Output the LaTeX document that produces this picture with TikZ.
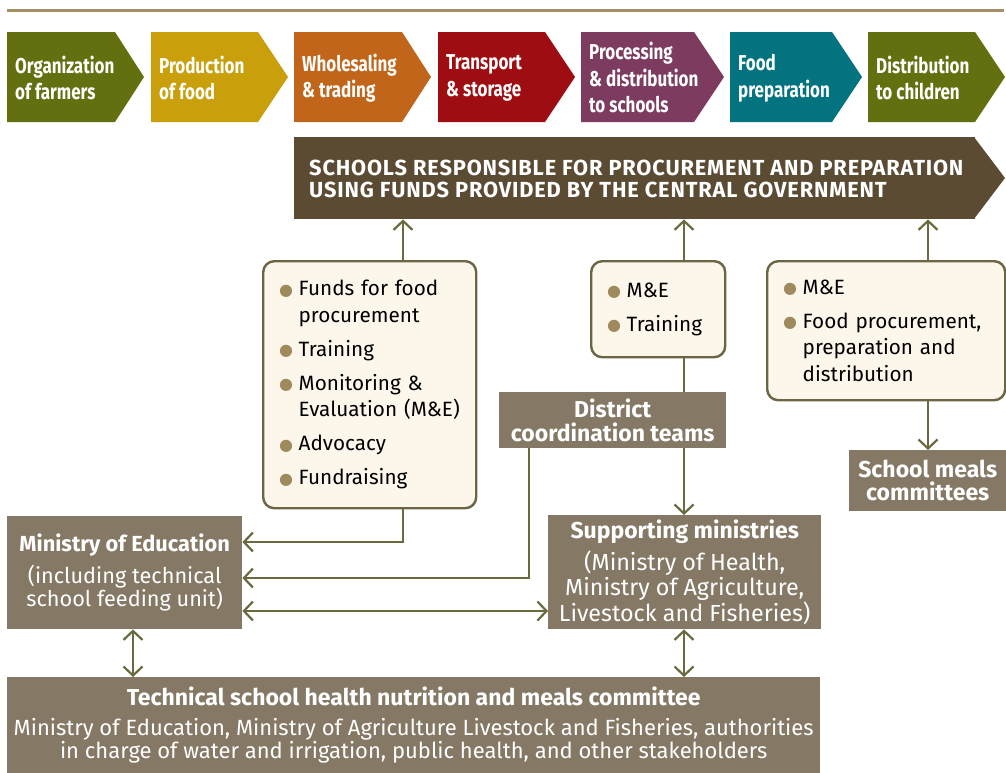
\documentclass[tikz,border=0pt]{standalone}
\usepackage{fontspec}
\setmainfont{Fira Sans}
\newfontfamily\chevfont[FakeStretch=0.79]{Fira Sans}
\newfontfamily\banfont[LetterSpace=3.8]{Fira Sans}
\newfontfamily\dejavu{DejaVu Sans}
\usetikzlibrary{arrows.meta,calc}
\definecolor{linec}{HTML}{A39066}
\definecolor{cA}{HTML}{647010}
\definecolor{cB}{HTML}{C9A00C}
\definecolor{cC}{HTML}{C0651A}
\definecolor{cD}{HTML}{9E0D12}
\definecolor{cE}{HTML}{7C3B5F}
\definecolor{cF}{HTML}{02737F}
\definecolor{bannerc}{HTML}{5B4B33}
\definecolor{taupec}{HTML}{857966}
\definecolor{creamc}{HTML}{FDF7EB}
\definecolor{borderc}{HTML}{6B6543}
\definecolor{bulc}{HTML}{9E8A5C}
\definecolor{arrc}{HTML}{6B6A3E}
\newcommand{\bul}{\makebox[19.5pt][l]{\raisebox{0.5pt}{\dejavu\fontsize{16}{16}\selectfont\textcolor{bulc}{●}}}}
\newcommand{\ind}{\hspace*{19.5pt}}
\newcommand{\ttl}[1]{{\bfseries\fontsize{23}{23.5}\selectfont #1}}
\begin{document}
\begin{tikzpicture}[x=1pt,y=-1pt,
  chevtext/.style={anchor=west, inner sep=0pt, align=left, text=white,
    font=\chevfont\bfseries\fontsize{21.5}{26.5}\selectfont},
  creambox/.style={draw=borderc, fill=creamc, line width=2.4pt, rounded corners=11pt,
    anchor=north west, inner xsep=16pt, inner ysep=0pt, align=left,
    font=\fontsize{20.7}{26.5}\selectfont},
  taupebox/.style={fill=taupec, text=white, anchor=north west, inner sep=0pt, align=center,
    font=\fontsize{22}{23.5}\selectfont},
  conn/.style={draw=arrc, line width=2.2pt},
  arr/.style={conn, -{Straight Barb[length=9pt,width=19pt]}},
  darr/.style={conn, {Straight Barb[length=9pt,width=19pt]}-{Straight Barb[length=9pt,width=19pt]}}
]
\useasboundingbox (0,0) rectangle (1006,772);

% top rule
\draw[linec, line width=2.2pt] (7,10.5) -- (1004,10.5);

% chevrons
\fill[cA] (7,32) -- (115,32) -- (144,77) -- (115,122) -- (7,122) -- cycle;
\node[chevtext] (ch1) at (15,78) {Organization\\of farmers};
\fill[cB] (151,32) -- (258,32) -- (288,77) -- (258,122) -- (151,122) -- cycle;
\node[chevtext] (ch2) at (159,78) {Production\\of food};
\fill[cC] (294,32) -- (402,32) -- (431,77) -- (402,122) -- (294,122) -- cycle;
\node[chevtext] (ch3) at (302,78) {Wholesaling\\\& trading};
\fill[cD] (438,32) -- (545,32) -- (575,77) -- (545,122) -- (438,122) -- cycle;
\node[chevtext] (ch4) at (446,78) {Transport\\\& storage};
\fill[cE] (581,32) -- (694,32) -- (724,77) -- (694,122) -- (581,122) -- cycle;
\node[chevtext] (ch5) at (589,77.5) {Processing\\\& distribution\\to schools};
\fill[cF] (730,32) -- (832,32) -- (862,77) -- (832,122) -- (730,122) -- cycle;
\node[chevtext] (ch6) at (738,78) {Food\\preparation};
\fill[cA] (868,32) -- (975,32) -- (1005,77) -- (975,122) -- (868,122) -- cycle;
\node[chevtext] (ch7) at (876,78) {Distribution\\to children};

% banner
\node[fill=bannerc, minimum width=681pt, minimum height=82pt, anchor=north west, inner sep=0pt] (ban) at (294,137) {};
\fill[bannerc] (974,137) -- (1005,178) -- (974,219) -- cycle;
\node[anchor=west, inner sep=0pt, align=left, text=white,
  font=\banfont\bfseries\fontsize{21.8}{21.7}\selectfont] (bantext) at (309,179)
  {SCHOOLS RESPONSIBLE FOR PROCUREMENT AND PREPARATION\\USING FUNDS PROVIDED BY THE CENTRAL GOVERNMENT};

% cream boxes
\node[creambox, text width=181pt, minimum height=247pt] (b1) at (262,260)
 {\bul Funds for food\\\ind procurement\\[7.5pt]\bul Training\\[7.5pt]\bul Monitoring \&\\\ind Evaluation (M\&E)\\[7.5pt]\bul Advocacy\\[7.5pt]\bul Fundraising};
\node[creambox, text width=102pt, minimum height=96pt] (b2) at (590,260)
 {\bul M\&E\\[7.5pt]\bul Training};
\node[creambox, text width=206pt, minimum height=139pt] (b3) at (766,260)
 {\bul M\&E\\[7.5pt]\bul Food procurement,\\\ind preparation and\\\ind distribution};

% taupe boxes
\node[taupebox, minimum width=227pt, minimum height=56pt] (dist) at (499,392)
 {\ttl{District}\\\ttl{coordination teams}};
\node[taupebox, minimum width=157pt, minimum height=61pt] (smc) at (849,450)
 {\ttl{School meals}\\\ttl{committees}};
\node[taupebox, minimum width=235pt, minimum height=113pt, font=\fontsize{21.7}{23.5}\selectfont] (moe) at (7,516)
 {{\bfseries\fontsize{21.8}{23.5}\selectfont Ministry of Education}\\[8.5pt](including technical\\school feeding unit)};
\node[taupebox, minimum width=273pt, minimum height=114pt, font=\fontsize{23.3}{24.5}\selectfont] (sup) at (548,515)
 {\ttl{Supporting ministries}\\[6.5pt](Ministry of Health,\\Ministry of Agriculture,\\Livestock and Fisheries)};
\node[taupebox, minimum width=813pt, minimum height=96pt] (tech) at (7,677)
 {\ttl{Technical school health nutrition and meals committee}\\[6.5pt]Ministry of Education, Ministry of Agriculture Livestock and Fisheries, authorities\\in charge of water and irrigation, public health, and other stakeholders};

% guide coordinates
\coordinate (xa) at (403,0);
\coordinate (xb) at (684,0);
\coordinate (xc) at (928,0);
\coordinate (xd) at (529,0);
\coordinate (xe) at (133,0);
\coordinate (ya) at (0,542);
\coordinate (yb) at (0,578);
\coordinate (yc) at (0,611);

% connectors
\draw[arr] (xa |- b1.north) -- (xa |- ban.south);
\draw[arr] (xb |- b2.north) -- (xb |- ban.south);
\draw[arr] (xc |- b3.north) -- (xc |- ban.south);
\draw[conn] (xb |- b2.south) -- (xb |- dist.north);
\draw[arr] (xb |- dist.south) -- (xb |- sup.north);
\draw[arr] (xc |- b3.south) -- (xc |- smc.north);
\draw[arr] (xa |- b1.south) |- (moe.east |- ya);
\draw[arr] (xd |- dist.south) |- (moe.east |- yb);
\draw[darr] (moe.east |- yc) -- (sup.west |- yc);
\draw[darr] (xe |- moe.south) -- (xe |- tech.north);
\draw[darr] (xb |- sup.south) -- (xb |- tech.north);
\end{tikzpicture}
\end{document}
